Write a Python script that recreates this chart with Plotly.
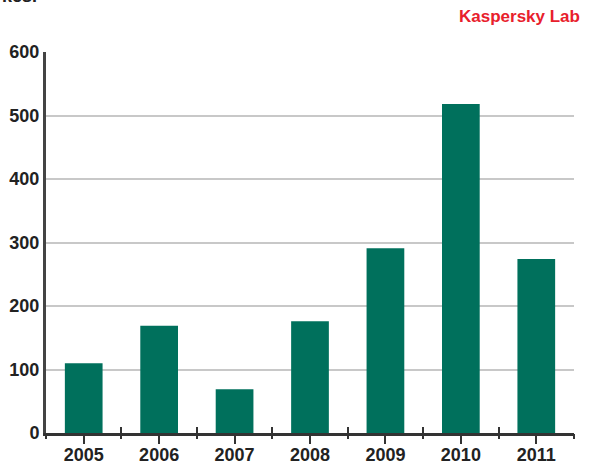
import plotly.graph_objects as go

years = ["2005", "2006", "2007", "2008", "2009", "2010", "2011"]
values = [110, 169, 69, 176, 291, 518, 274]
y_ticks = [0, 100, 200, 300, 400, 500, 600]

BAR = "#00705C"
AX = "#333333"
TXT = "#222222"
FONT = "Liberation Sans, Arial, sans-serif"

n = len(years)
bounds = [i - 0.5 for i in range(n + 1)]

fig = go.Figure()
fig.add_trace(go.Bar(x=years, y=values, marker=dict(color=BAR, line=dict(width=0)),
                     hoverinfo="x+y"))
# invisible traces to host boundary-tick axes
fig.add_trace(go.Scatter(x=[bounds[0], bounds[-1]], y=[0, 0], xaxis="x2", mode="markers",
                         marker=dict(opacity=0), showlegend=False, hoverinfo="skip"))
fig.add_trace(go.Scatter(x=[bounds[0], bounds[-1]], y=[0, 0], xaxis="x3", mode="markers",
                         marker=dict(opacity=0), showlegend=False, hoverinfo="skip"))

fig.update_layout(
    width=592, height=464,
    margin=dict(l=46, r=18, t=52, b=31, autoexpand=False),
    paper_bgcolor="white", plot_bgcolor="white",
    showlegend=False,
    bargap=0.5,
    font=dict(family=FONT, color=TXT),
    xaxis=dict(type="category", range=[-0.5, n - 0.5], automargin=False,
               showline=True, linecolor=AX, linewidth=3,
               ticks="outside", ticklen=8, tickwidth=2, tickcolor=AX,
               ticklabelstandoff=-5,
               tickfont=dict(size=18, weight="bold", color=TXT),
               showgrid=False, zeroline=False, fixedrange=True),
    xaxis2=dict(overlaying="x", anchor="y", range=[bounds[0], bounds[-1]], automargin=False,
                tickvals=bounds, ticks="inside", ticklen=6, tickwidth=2, tickcolor=AX,
                showticklabels=False, showgrid=False, zeroline=False, showline=False),
    xaxis3=dict(overlaying="x", anchor="y", range=[bounds[0], bounds[-1]], automargin=False,
                tickvals=bounds, ticks="outside", ticklen=5, tickwidth=2, tickcolor=AX,
                showticklabels=False, showgrid=False, zeroline=False, showline=False),
    yaxis=dict(range=[0, 600], tickvals=y_ticks, automargin=False,
               showline=True, linecolor="#444444", linewidth=3,
               ticks="", showgrid=True, gridcolor="#C8C8C8", gridwidth=2,
               zeroline=False,
               tickfont=dict(size=18, weight="bold", color=TXT)),
    annotations=[
        dict(text="Kaspersky Lab", xref="paper", yref="paper", x=1.0, y=1.0,
             xanchor="right", yanchor="middle", xshift=8, yshift=36, showarrow=False,
             font=dict(size=17, weight="bold", color="#E8202C", family=FONT)),
        dict(text="kes.", xref="paper", yref="paper", x=0, y=1.0,
             xanchor="left", yanchor="bottom", xshift=-46, yshift=44, showarrow=False,
             font=dict(size=18, weight="bold", color=TXT, family=FONT)),
    ],
)

fig.write_html("out.html", config={"displayModeBar": False},
               post_script="document.body.style.margin='0';document.body.style.overflow='hidden';")
